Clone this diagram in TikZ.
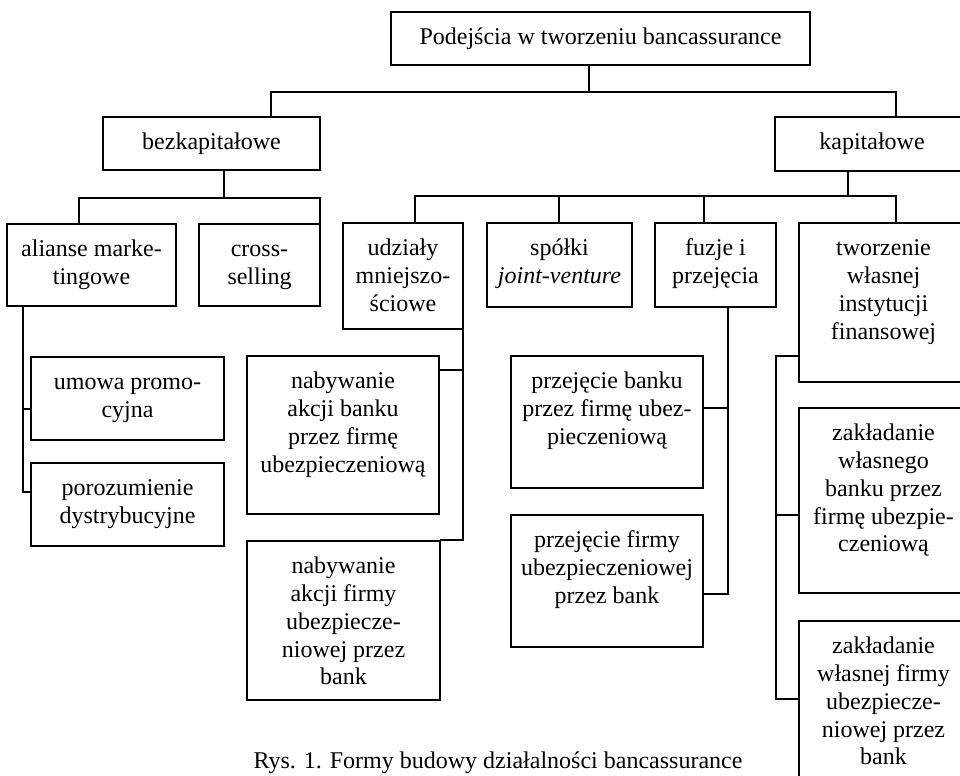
\documentclass[tikz,border=0pt]{standalone}
\usepackage{fontspec}
\setmainfont{Liberation Serif}
\newcommand{\boxtxt}[3]{\parbox[t][\dimexpr #2pt*3/4\relax][t]{\dimexpr #1pt*3/4\relax}{\centering\rule{0pt}{24.7pt}#3}}
\begin{document}
\begin{tikzpicture}[x=0.75pt, y=-0.75pt, line width=1.4pt,
  font=\fontsize{18}{20.8}\selectfont,
  bx/.style={draw, line width=1.4pt, inner sep=0pt, outer sep=0pt, anchor=north west},
  conn/.style={draw, line width=1.4pt}]
\useasboundingbox (0,0) rectangle (960,775);
\clip (0,0) rectangle (960,775);

% boxes
\node[bx] (top) at (391,12) {\boxtxt{419}{53}{Podejścia w tworzeniu bancassurance}};
\node[bx] (bez) at (103,117) {\boxtxt{217}{53}{bezkapitałowe}};
\node[bx] (kap) at (775,117) {\boxtxt{194}{54}{kapitałowe}};
\node[bx] (ali) at (7,224) {\boxtxt{169}{82}{alianse marke-\\tingowe}};
\node[bx] (cross) at (199,224) {\boxtxt{121}{82}{cross-\\selling}};
\node[bx] (udz) at (343,223) {\boxtxt{120}{106}{udziały\\mniejszo-\\ściowe}};
\node[bx] (spo) at (487,223) {\boxtxt{145}{84}{spółki\\\textit{joint-venture}}};
\node[bx] (fuz) at (655,223) {\boxtxt{121}{84}{fuzje i\\przejęcia}};
\node[bx] (two) at (799,223) {\boxtxt{169}{159}{tworzenie\\własnej\\instytucji\\finansowej}};
\node[bx] (umo) at (31,357) {\boxtxt{193}{83}{umowa promo-\\cyjna}};
\node[bx] (por) at (31,463) {\boxtxt{193}{83}{porozumienie\\dystrybucyjne}};
\node[bx] (nb1) at (247,356) {\boxtxt{192}{158}{nabywanie\\akcji banku\\przez firmę\\ubezpieczeniową}};
\node[bx] (nb2) at (247,541) {\boxtxt{193}{159}{nabywanie\\akcji firmy\\ubezpiecze-\\niowej przez\\bank}};
\node[bx] (pb) at (511,356) {\boxtxt{192}{132}{przejęcie banku\\przez firmę ubez-\\pieczeniową}};
\node[bx] (pf) at (511,515) {\boxtxt{192}{132}{przejęcie firmy\\ubezpieczeniowej\\przez bank}};
\node[bx] (zw1) at (799,408) {\boxtxt{169}{185}{zakładanie\\własnego\\banku przez\\firmę ubezpie-\\czeniową}};
\node[bx] (zw2) at (799,621) {\boxtxt{169}{180}{zakładanie\\własnej firmy\\ubezpiecze-\\niowej przez\\bank}};
\node[anchor=base, inner sep=0pt] (cap) at (498,768) {Rys. 1. Formy budowy działalności bancassurance};

% level 1
\coordinate (t1) at (589,92);
\coordinate (t1L) at (271,92);
\coordinate (t1R) at (896,92);
\draw[conn] (top.south -| t1) -- (t1);
\draw[conn] (bez.north -| t1L) -- (t1L) -- (t1R) -- (kap.north -| t1R);

% bezkapitalowe
\coordinate (b1) at (224,198);
\coordinate (b1L) at (79,198);
\coordinate (b1R) at (320,198);
\draw[conn] (bez.south -| b1) -- (b1);
\draw[conn] (ali.north -| b1L) -- (b1L) -- (b1R) -- (cross.north east);

% kapitalowe
\coordinate (k1) at (848,196);
\coordinate (k1A) at (415,196);
\coordinate (k1B) at (559,196);
\coordinate (k1C) at (704,196);
\coordinate (k1D) at (896,196);
\draw[conn] (kap.south -| k1) -- (k1);
\draw[conn] (udz.north -| k1A) -- (k1A) -- (k1D) -- (two.north -| k1D);
\draw[conn] (k1B) -- (spo.north -| k1B);
\draw[conn] (k1C) -- (fuz.north -| k1C);

% alianse children
\coordinate (a1) at (23,409);
\coordinate (a2) at (23,492);
\draw[conn] (ali.south -| a1) -- (a2) -- (por.west |- a2);
\draw[conn] (a1) -- (umo.west |- a1);

% udzialy children
\coordinate (u1) at (463,370);
\coordinate (u2) at (463,540);
\draw[conn] (udz.south east) -- (u2) -- (nb2.east |- u2);
\draw[conn] (u1) -- (nb1.east |- u1);

% fuzje children
\coordinate (f1) at (728,408);
\coordinate (f2) at (728,594);
\draw[conn] (fuz.south -| f1) -- (f2) -- (pf.east |- f2);
\draw[conn] (f1) -- (pb.east |- f1);

% tworzenie children
\coordinate (w1) at (776,356);
\coordinate (w2) at (776,515);
\coordinate (w3) at (776,699);
\draw[conn] (two.west |- w1) -- (w1) -- (w3) -- (zw2.west |- w3);
\draw[conn] (w2) -- (zw1.west |- w2);
\end{tikzpicture}
\end{document}
